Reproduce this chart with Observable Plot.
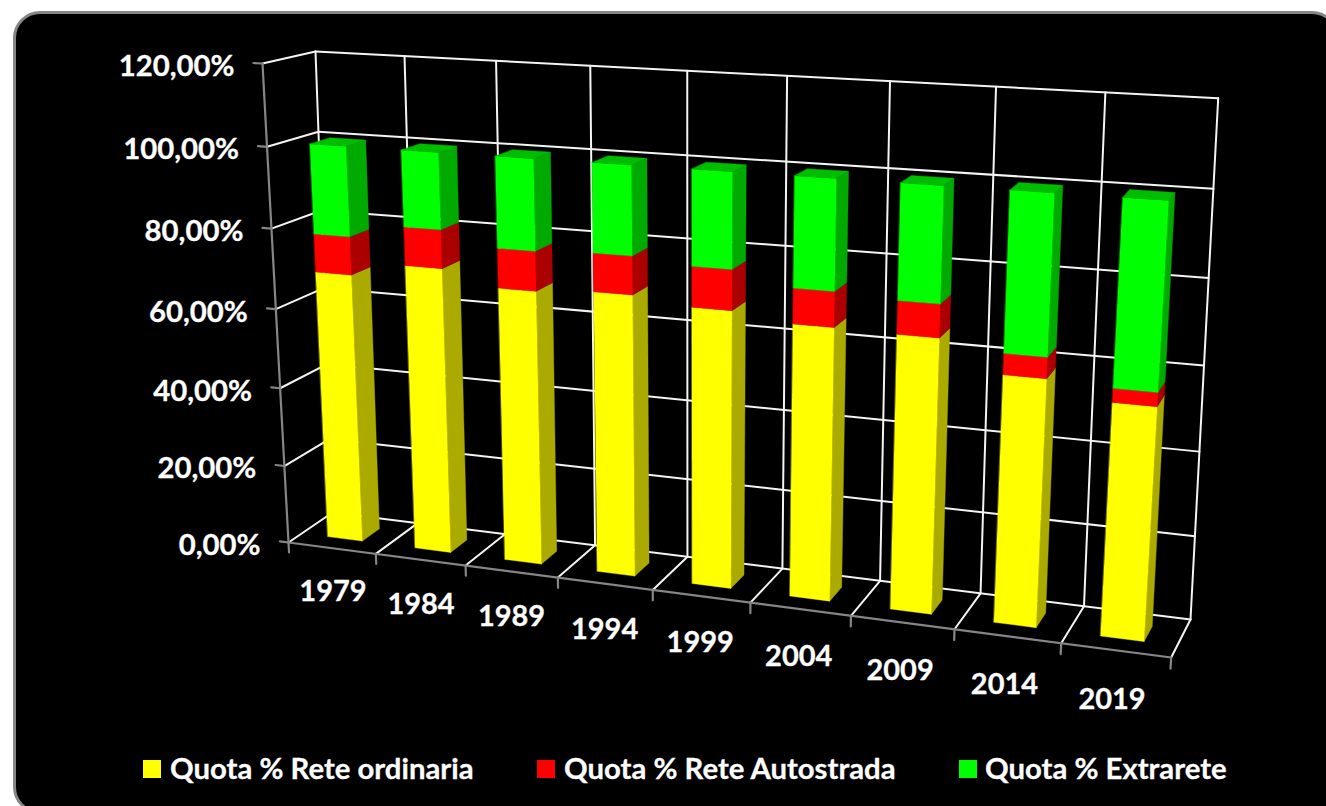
<!DOCTYPE html>
<html>
<head>
<meta charset="utf-8">
<script src="https://cdn.jsdelivr.net/npm/d3@7"></script>
<script src="https://cdn.jsdelivr.net/npm/@observablehq/plot@0.6"></script>
<style>
html,body{margin:0;padding:0;background:#fff;width:1326px;height:806px;overflow:hidden}
#panel{position:absolute;left:13px;top:11px;width:1326px;height:803px;background:#000;border:3px solid #868686;border-radius:27px;box-sizing:border-box}
#chart{position:absolute;left:0;top:0;width:1326px;height:806px;font-family:Lato,sans-serif;font-weight:700;color:#fff}
#chart svg{display:block}
#legend{position:relative;height:56px;font-size:29.3px;-webkit-text-stroke:0.3px #fff}
#legend .s{position:absolute;top:10px;width:18px;height:18px}
#legend .t{position:absolute;top:1px;line-height:34px;white-space:nowrap}
</style>
</head>
<body>
<div id="panel"></div>
<div id="chart"></div>
<script>
const years = ["1979","1984","1989","1994","1999","2004","2009","2014","2019"];
const seriesNames = ["Quota % Rete ordinaria","Quota % Rete Autostrada","Quota % Extrarete"];
const ordinaria = [68.3,71.8,68.2,69.3,67.6,65.7,65.4,58.3,54.3];
const autostrada = [9.5,9.5,9.7,9.3,9.7,8.4,7.8,4.9,3.2];
const extrarete = [22.2,18.7,22.1,21.4,22.7,25.9,26.8,36.8,42.5];
const yTicks = [0,20,40,60,80,100,120];
const yLabels = ["0,00%","20,00%","40,00%","60,00%","80,00%","100,00%","120,00%"];
const frontColors = ["#ffff00","#ff0000","#00ff00"];
const sideColors = ["#aaaa00","#aa0000","#00aa00"];
const topColor = "#00bd00";
const legendSwatchX = [143,537,959];
const legendTextX = [170,564,985];

// Perspective of the 3D box: category (0..9), percent (0..120), depth (0 front..1 back)
function plane(A,p,q,r){
  const d=[p[0]+q[0]-A[0]-r[0],p[1]+q[1]-A[1]-r[1]];
  const m=[r[0]-p[0],r[0]-q[0],r[1]-p[1],r[1]-q[1]];
  const det=m[0]*m[3]-m[1]*m[2];
  const a=(d[0]*m[3]-m[1]*d[1])/det, b=(m[0]*d[1]-m[2]*d[0])/det;
  const U=[(1+a)*p[0]-A[0],(1+a)*p[1]-A[1]], V=[(1+b)*q[0]-A[0],(1+b)*q[1]-A[1]];
  return (u,v)=>{const w=1+a*u+b*v;return [(A[0]+u*U[0]+v*V[0])/w,(A[1]+u*U[1]+v*V[1])/w];};
}
const floorPlane = plane([288,542],[1170.7,657],[332,512],[1190,619]);
const topPlane = plane([262,63],[1205,114],[315,51],[1217.7,97.7]);
const cVert = -0.05;
function toScreen(c,pct,depth){
  const u=c/9,w=pct/120,f=w*(1+cVert)/(1+cVert*w);
  const a=floorPlane(u,depth),b=topPlane(u,depth);
  return [a[0]+(b[0]-a[0])*f,a[1]+(b[1]-a[1])*f];
}
const boxProjection={stream:d3.geoTransform({point(x,y,z){const p=toScreen(x,y,z??0);this.stream.point(p[0],p[1]);}}).stream};

const line=(...c)=>({type:"LineString",coordinates:c});
const poly=(c,fill)=>({type:"Polygon",coordinates:[[...c,c[0]]],fill});

const wallLines=[
  ...yTicks.map(t=>line([0,t,1],[9,t,1])),
  ...yTicks.map(t=>line([0,t,0],[0,t,1])),
  ...d3.range(10).map(i=>line([i,0,1],[i,120,1])),
  ...d3.range(1,10).map(i=>line([i,0,0],[i,0,1]))
];
const axisLines=[
  line([0,0,0],[0,120,0]),
  line([0,0,0],[9,0,0]),
  ...yTicks.map(t=>line([-0.1,t,0],[0,t,0])),
  ...d3.range(10).map(i=>line([i,-2.6,0],[i,0,0]))
];

const faces=[];
const x0=0.3,x1=0.7,z0=0.3,z1=0.7;
years.forEach((y,i)=>{
  let base=0;
  [ordinaria,autostrada,extrarete].forEach((s,k)=>{
    const t=base+s[i],l=i+x0,r=i+x1;
    faces.push(poly([[r,base,z0],[r,base,z1],[r,t,z1],[r,t,z0]],sideColors[k]));
    faces.push(poly([[l,base,z0],[r,base,z0],[r,t,z0],[l,t,z0]],frontColors[k]));
    if(k===2) faces.push(poly([[l,t,z0],[r,t,z0],[r,t,z1],[l,t,z1]],topColor));
    base=t;
  });
});

const chart=Plot.plot({
  width:1326,height:750,margin:0,
  projection:boxProjection,
  style:{background:"transparent",color:"#fff",fontFamily:"Lato,sans-serif"},
  marks:[
    Plot.geo(wallLines,{stroke:"#f4f4f4",strokeWidth:2,fill:"none"}),
    Plot.geo(axisLines,{stroke:"#868686",strokeWidth:2.2,fill:"none"}),
    Plot.geo(faces,{fill:d=>d.fill,stroke:d=>d.fill,strokeWidth:0.4}),
    Plot.text(yTicks,{x:0,y:d=>d,text:(d,i)=>yLabels[i],dx:-28,dy:3,textAnchor:"end",fontSize:29.3,fontWeight:700,fill:"#fff",stroke:"#fff",strokeWidth:0.3}),
    Plot.text(years,{x:(d,i)=>i+0.5,y:-11.6,dx:-1,text:d=>d,fontSize:29,fontWeight:700,fill:"#fff",stroke:"#fff",strokeWidth:0.3})
  ]
});
const root=document.getElementById("chart");
root.appendChild(chart);
const legend=document.createElement("div");
legend.id="legend";
seriesNames.forEach((n,i)=>{
  const s=document.createElement("div");s.className="s";s.style.left=legendSwatchX[i]+"px";s.style.background=frontColors[i];
  const t=document.createElement("div");t.className="t";t.style.left=legendTextX[i]+"px";t.textContent=n;
  legend.append(s,t);
});
root.appendChild(legend);
</script>
</body>
</html>
